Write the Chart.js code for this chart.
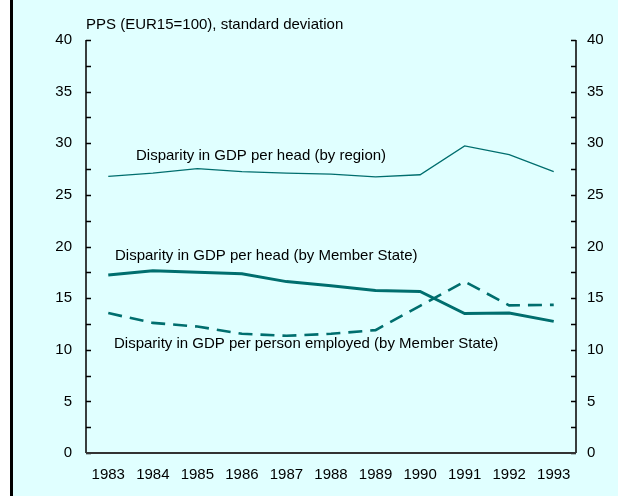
<!DOCTYPE html>
<html>
<head>
<meta charset="utf-8">
<script src="https://cdn.jsdelivr.net/npm/chart.js@4.4.1/dist/chart.umd.min.js"></script>
<style>
  html, body { margin: 0; padding: 0; background: #fff; }
  #wrap { width: 618px; height: 496px; }
</style>
</head>
<body>
<div id="wrap"><canvas id="grafico"></canvas></div>
<script>
// years on the x axis
var years = ['1983', '1984', '1985', '1986', '1987', '1988', '1989', '1990', '1991', '1992', '1993'];

// standard deviation, PPS (EUR15=100)
var byRegion = [26.8, 27.1, 27.55, 27.25, 27.1, 27.0, 26.75, 26.95, 29.75, 28.9, 27.25];
var byMemberState = [17.25, 17.65, 17.5, 17.35, 16.6, 16.2, 15.75, 15.65, 13.5, 13.55, 12.75];
var perPersonEmployed = [13.55, 12.6, 12.25, 11.55, 11.35, 11.55, 11.9, 14.25, 16.6, 14.3, 14.35];

var yTicks = [0, 5, 10, 15, 20, 25, 30, 35, 40];

var teal = '#006e6e';
var fondo = '#e0ffff';

Chart.defaults.font.family = '"Liberation Sans", Arial, sans-serif';
Chart.defaults.font.size = 15;
Chart.defaults.color = '#000';

// background, left border, axes with inward ticks, title and line captions
var decorado = {
  id: 'decorado',
  beforeDraw: function (chart) {
    var ctx = chart.ctx;
    ctx.save();
    ctx.fillStyle = '#fff';
    ctx.fillRect(0, 0, chart.width, chart.height);
    ctx.fillStyle = fondo;
    ctx.fillRect(12, 0, chart.width - 12, chart.height);
    ctx.fillStyle = '#000';
    ctx.fillRect(10, 0, 3, chart.height);
    ctx.restore();
  },
  afterDraw: function (chart) {
    var ctx = chart.ctx;
    var area = chart.chartArea;
    var y = chart.scales.y;
    ctx.save();

    // vertical axes
    ctx.strokeStyle = '#000';
    ctx.lineWidth = 1.5;
    ctx.beginPath();
    ctx.moveTo(area.left, area.top);
    ctx.lineTo(area.left, area.bottom);
    ctx.moveTo(area.right, area.top);
    ctx.lineTo(area.right, area.bottom);
    ctx.stroke();

    // inward tick marks every 2.5
    ctx.lineWidth = 1.5;
    ctx.beginPath();
    y.ticks.forEach(function (t) {
      var py = Math.round(y.getPixelForValue(t.value)) + 0.5;
      ctx.moveTo(area.left, py);
      ctx.lineTo(area.left + 5, py);
      ctx.moveTo(area.right, py);
      ctx.lineTo(area.right - 5, py);
    });
    ctx.stroke();

    // bottom axis
    ctx.strokeStyle = '#333';
    ctx.lineWidth = 2;
    ctx.beginPath();
    ctx.moveTo(area.left, area.bottom);
    ctx.lineTo(area.right, area.bottom);
    ctx.stroke();

    // texts
    ctx.fillStyle = '#000';
    ctx.font = '15px "Liberation Sans", Arial, sans-serif';
    ctx.textAlign = 'left';
    ctx.textBaseline = 'alphabetic';
    ctx.fillText('PPS (EUR15=100), standard deviation', 86, 29);
    ctx.fillText('Disparity in GDP per head (by region)', 136, 160);
    ctx.fillText('Disparity in GDP per head (by Member State)', 115, 260);
    ctx.fillText('Disparity in GDP per person employed (by Member State)', 114, 348);
    ctx.restore();
  }
};

function marcas(scale) {
  scale.ticks = [];
  for (var v = 0; v <= 40; v += 2.5) {
    scale.ticks.push({ value: v });
  }
}

function etiqueta(value) {
  return yTicks.indexOf(value) >= 0 ? String(value) : '';
}

var data = {
  labels: years,
  datasets: [{
    label: 'Disparity in GDP per head (by region)',
    data: byRegion,
    borderColor: teal,
    borderWidth: 1.3,
    pointRadius: 0,
    yAxisID: 'y'
  }, {
    label: 'Disparity in GDP per head (by Member State)',
    data: byMemberState,
    borderColor: teal,
    borderWidth: 3,
    pointRadius: 0,
    yAxisID: 'y'
  }, {
    label: 'Disparity in GDP per person employed (by Member State)',
    data: perPersonEmployed,
    borderColor: teal,
    borderWidth: 2.6,
    borderDash: [14, 8],
    pointRadius: 0,
    yAxisID: 'y'
  }]
};

var config = {
  type: 'line',
  data: data,
  options: {
    responsive: true,
    maintainAspectRatio: false,
    animation: false,
    layout: { padding: { top: 40, left: 0, right: 0, bottom: 0 } },
    plugins: {
      legend: { display: false },
      tooltip: { enabled: false }
    },
    scales: {
      x: {
        offset: true,
        grid: { display: false, drawTicks: false },
        border: { display: false },
        ticks: { padding: 13, maxRotation: 0, autoSkip: false },
        afterFit: function (scale) { scale.height = 43; }
      },
      y: {
        position: 'left',
        min: 0,
        max: 40,
        afterBuildTicks: marcas,
        grid: { display: false, drawTicks: false },
        border: { display: false },
        ticks: { padding: 14, callback: etiqueta, autoSkip: false },
        afterFit: function (scale) { scale.width = 86; }
      },
      y2: {
        position: 'right',
        min: 0,
        max: 40,
        afterBuildTicks: marcas,
        grid: { display: false, drawTicks: false },
        border: { display: false },
        ticks: { padding: 11, callback: etiqueta, autoSkip: false },
        afterFit: function (scale) { scale.width = 42; }
      }
    }
  },
  plugins: [decorado]
};

var myChart = new Chart(document.getElementById('grafico'), config);
</script>
</body>
</html>
